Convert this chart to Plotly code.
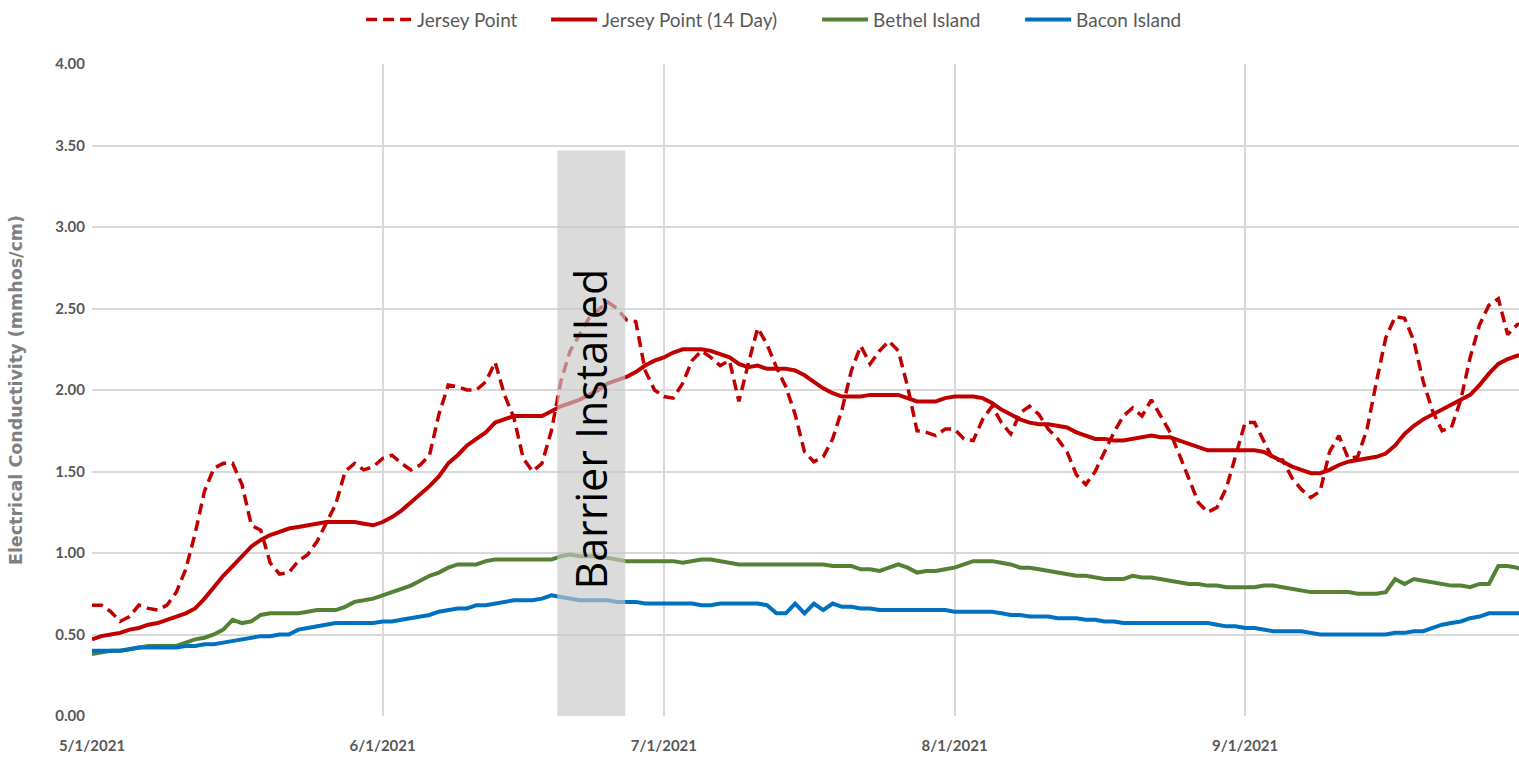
import pandas as pd
import plotly.graph_objects as go

# ---------------- data (daily, 5/1/2021 .. 10/1/2021) ----------------
dates = pd.date_range("2021-05-01", "2021-10-01", freq="D")

jersey_point = [
    # May
    0.68, 0.68, 0.64, 0.58, 0.61, 0.68, 0.66, 0.65, 0.68, 0.76,
    0.90, 1.12, 1.38, 1.52, 1.55, 1.55, 1.42, 1.17, 1.14, 0.94,
    0.87, 0.88, 0.95, 0.99, 1.07, 1.18, 1.30, 1.50, 1.55, 1.51, 1.53,
    # June
    1.58, 1.60, 1.55, 1.51, 1.54, 1.60, 1.85, 2.03, 2.02, 2.00,
    2.00, 2.05, 2.17, 1.97, 1.83, 1.58, 1.50, 1.55, 1.75, 2.05,
    2.24, 2.34, 2.44, 2.49, 2.54, 2.50, 2.43, 2.42, 2.12, 2.00,
    # July
    1.96, 1.95, 2.04, 2.18, 2.24, 2.20, 2.15, 2.18, 1.93, 2.16,
    2.38, 2.28, 2.14, 2.02, 1.85, 1.62, 1.56, 1.59, 1.70, 1.88,
    2.12, 2.27, 2.16, 2.24, 2.30, 2.24, 2.02, 1.75, 1.74, 1.72, 1.76,
    # August
    1.76, 1.70, 1.69, 1.82, 1.90, 1.80, 1.73, 1.86, 1.90, 1.85,
    1.76, 1.70, 1.62, 1.48, 1.42, 1.50, 1.62, 1.74, 1.84, 1.89,
    1.84, 1.94, 1.84, 1.74, 1.60, 1.45, 1.31, 1.25, 1.28, 1.40, 1.60,
    # September
    1.80, 1.80, 1.68, 1.57, 1.57, 1.46, 1.39, 1.34, 1.38, 1.62,
    1.72, 1.58, 1.59, 1.76, 2.05, 2.32, 2.45, 2.44, 2.30, 2.05,
    1.87, 1.75, 1.77, 1.94, 2.20, 2.40, 2.52, 2.56, 2.34, 2.40,
    # Oct 1
    2.42,
]

jersey_point_14day = [
    0.47, 0.49, 0.50, 0.51, 0.53, 0.54, 0.56, 0.57, 0.59, 0.61,
    0.63, 0.66, 0.72, 0.79, 0.86, 0.92, 0.98, 1.04, 1.08, 1.11,
    1.13, 1.15, 1.16, 1.17, 1.18, 1.19, 1.19, 1.19, 1.19, 1.18, 1.17,
    1.19, 1.22, 1.26, 1.31, 1.36, 1.41, 1.47, 1.55, 1.60, 1.66,
    1.70, 1.74, 1.80, 1.82, 1.84, 1.84, 1.84, 1.84, 1.87, 1.90,
    1.92, 1.94, 1.97, 2.00, 2.04, 2.06, 2.08, 2.11, 2.15, 2.18,
    2.20, 2.23, 2.25, 2.25, 2.25, 2.24, 2.22, 2.20, 2.16, 2.14,
    2.15, 2.13, 2.13, 2.13, 2.12, 2.09, 2.05, 2.01, 1.98, 1.96,
    1.96, 1.96, 1.97, 1.97, 1.97, 1.97, 1.95, 1.93, 1.93, 1.93, 1.95,
    1.96, 1.96, 1.96, 1.95, 1.92, 1.88, 1.85, 1.82, 1.80, 1.79,
    1.79, 1.78, 1.77, 1.74, 1.72, 1.70, 1.70, 1.69, 1.69, 1.70,
    1.71, 1.72, 1.71, 1.71, 1.69, 1.67, 1.65, 1.63, 1.63, 1.63, 1.63,
    1.63, 1.63, 1.62, 1.59, 1.56, 1.53, 1.51, 1.49, 1.49, 1.51,
    1.54, 1.56, 1.57, 1.58, 1.59, 1.61, 1.66, 1.73, 1.78, 1.82,
    1.85, 1.88, 1.91, 1.94, 1.97, 2.03, 2.10, 2.16, 2.19, 2.21,
    2.22,
]

bethel_island = [
    0.38, 0.39, 0.40, 0.40, 0.41, 0.42, 0.43, 0.43, 0.43, 0.43,
    0.45, 0.47, 0.48, 0.50, 0.53, 0.59, 0.57, 0.58, 0.62, 0.63,
    0.63, 0.63, 0.63, 0.64, 0.65, 0.65, 0.65, 0.67, 0.70, 0.71, 0.72,
    0.74, 0.76, 0.78, 0.80, 0.83, 0.86, 0.88, 0.91, 0.93, 0.93,
    0.93, 0.95, 0.96, 0.96, 0.96, 0.96, 0.96, 0.96, 0.96, 0.98,
    0.99, 0.98, 0.98, 0.98, 0.97, 0.96, 0.95, 0.95, 0.95, 0.95,
    0.95, 0.95, 0.94, 0.95, 0.96, 0.96, 0.95, 0.94, 0.93, 0.93,
    0.93, 0.93, 0.93, 0.93, 0.93, 0.93, 0.93, 0.93, 0.92, 0.92,
    0.92, 0.90, 0.90, 0.89, 0.91, 0.93, 0.91, 0.88, 0.89, 0.89, 0.90,
    0.91, 0.93, 0.95, 0.95, 0.95, 0.94, 0.93, 0.91, 0.91, 0.90,
    0.89, 0.88, 0.87, 0.86, 0.86, 0.85, 0.84, 0.84, 0.84, 0.86,
    0.85, 0.85, 0.84, 0.83, 0.82, 0.81, 0.81, 0.80, 0.80, 0.79, 0.79,
    0.79, 0.79, 0.80, 0.80, 0.79, 0.78, 0.77, 0.76, 0.76, 0.76,
    0.76, 0.76, 0.75, 0.75, 0.75, 0.76, 0.84, 0.81, 0.84, 0.83,
    0.82, 0.81, 0.80, 0.80, 0.79, 0.81, 0.81, 0.92, 0.92, 0.91,
    0.89,
]

bacon_island = [
    0.40, 0.40, 0.40, 0.40, 0.41, 0.42, 0.42, 0.42, 0.42, 0.42,
    0.43, 0.43, 0.44, 0.44, 0.45, 0.46, 0.47, 0.48, 0.49, 0.49,
    0.50, 0.50, 0.53, 0.54, 0.55, 0.56, 0.57, 0.57, 0.57, 0.57, 0.57,
    0.58, 0.58, 0.59, 0.60, 0.61, 0.62, 0.64, 0.65, 0.66, 0.66,
    0.68, 0.68, 0.69, 0.70, 0.71, 0.71, 0.71, 0.72, 0.74, 0.73,
    0.72, 0.71, 0.71, 0.71, 0.71, 0.70, 0.70, 0.70, 0.69, 0.69,
    0.69, 0.69, 0.69, 0.69, 0.68, 0.68, 0.69, 0.69, 0.69, 0.69,
    0.69, 0.68, 0.63, 0.63, 0.69, 0.63, 0.69, 0.65, 0.69, 0.67,
    0.67, 0.66, 0.66, 0.65, 0.65, 0.65, 0.65, 0.65, 0.65, 0.65, 0.65,
    0.64, 0.64, 0.64, 0.64, 0.64, 0.63, 0.62, 0.62, 0.61, 0.61,
    0.61, 0.60, 0.60, 0.60, 0.59, 0.59, 0.58, 0.58, 0.57, 0.57,
    0.57, 0.57, 0.57, 0.57, 0.57, 0.57, 0.57, 0.57, 0.56, 0.55, 0.55,
    0.54, 0.54, 0.53, 0.52, 0.52, 0.52, 0.52, 0.51, 0.50, 0.50,
    0.50, 0.50, 0.50, 0.50, 0.50, 0.50, 0.51, 0.51, 0.52, 0.52,
    0.54, 0.56, 0.57, 0.58, 0.60, 0.61, 0.63, 0.63, 0.63, 0.63,
    0.63,
]

series_names = ["Jersey Point", "Jersey Point (14 Day)", "Bethel Island", "Bacon Island"]

barrier_start = "2021-06-19 15:00"
barrier_end = "2021-06-26 21:00"
barrier_top = 3.47
barrier_label = "Barrier Installed"

y_ticks = [0.0, 0.5, 1.0, 1.5, 2.0, 2.5, 3.0, 3.5, 4.0]

for s in (jersey_point, jersey_point_14day, bethel_island, bacon_island):
    assert len(s) == len(dates), len(s)

RED = "#C00000"
GREEN = "#548235"
BLUE = "#0070C0"
GRID = "#d9d9d9"
TXT = "#595959"

fig = go.Figure()
fig.add_trace(go.Scatter(x=dates, y=jersey_point, name=series_names[0], mode="lines",
                         legendwidth=124,
                         line=dict(color=RED, width=3.5, dash="11px,6px")))
fig.add_trace(go.Scatter(x=dates, y=jersey_point_14day, name=series_names[1], mode="lines",
                         legendwidth=210,
                         line=dict(color=RED, width=4)))
fig.add_trace(go.Scatter(x=dates, y=bethel_island, name=series_names[2], mode="lines",
                         legendwidth=142,
                         line=dict(color=GREEN, width=4)))
fig.add_trace(go.Scatter(x=dates, y=bacon_island, name=series_names[3], mode="lines",
                         legendwidth=106,
                         line=dict(color=BLUE, width=4)))

fig.add_shape(type="rect", xref="x", yref="y", x0=barrier_start, x1=barrier_end,
              y0=0, y1=barrier_top, fillcolor="#c8c8c8", opacity=0.65,
              line=dict(width=0), layer="above")

fig.add_annotation(x="2021-06-23 04:00", y=1.76, xref="x", yref="y",
                   text=barrier_label, textangle=-90, showarrow=False,
                   font=dict(family="Open Sans", size=43, color="#000000"),
                   xanchor="center", yanchor="middle")

fig.update_layout(
    width=1519, height=757,
    margin=dict(l=92, r=0, t=64, b=41, autoexpand=False),
    paper_bgcolor="white", plot_bgcolor="white",
    showlegend=True,
    legend=dict(orientation="h", x=0.478, xanchor="center", y=1.068, yanchor="middle",
                font=dict(family="Lato", size=19, color=TXT), itemwidth=46,
                entrywidthmode="pixels",
                bgcolor="rgba(0,0,0,0)", traceorder="normal"),
    xaxis=dict(type="date", range=["2021-05-01", "2021-09-30 05:00"], automargin=False,
               tick0="2021-05-01", dtick="M1", tickformat="%-m/%-d/%Y",
               showgrid=True, gridcolor=GRID, gridwidth=1.5, zeroline=False,
               showline=False, ticks="", ticklabelstandoff=19,
               tickfont=dict(family="Lato", size=15, color=TXT, weight="bold")),
    yaxis=dict(range=[0, 4], tickvals=y_ticks, tickformat=".2f", automargin=False,
               showgrid=True, gridcolor=GRID, gridwidth=1.5, zeroline=False,
               showline=False, ticks="", ticklabelstandoff=6,
               tickfont=dict(family="Lato", size=15, color=TXT, weight="bold"),
               title=dict(text="Electrical Conductivity (mmhos/cm)", standoff=28,
                          font=dict(family="DejaVu Sans", size=17.5, color="#808080",
                                    weight="bold"))),
)

fig.write_html(
    "out.html",
    config={"displayModeBar": False},
    post_script="document.body.style.margin='0';document.body.style.overflow='hidden';",
)
